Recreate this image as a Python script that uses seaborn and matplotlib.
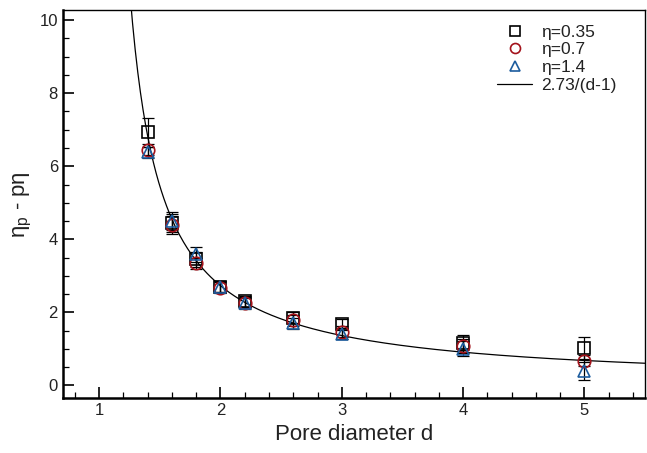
import matplotlib
matplotlib.use("Agg")
import matplotlib.pyplot as plt
import seaborn as sns
import numpy as np
from matplotlib.ticker import MultipleLocator

# Pore diameters
d = [1.4, 1.6, 1.8, 2.0, 2.2, 2.6, 3.0, 4.0, 5.0]

# eta_p - p*eta for each eta
y_035 = [6.93, 4.45, 3.45, 2.70, 2.30, 1.85, 1.68, 1.17, 1.03]
y_07 = [6.45, 4.40, 3.34, 2.68, 2.25, 1.79, 1.47, 1.08, 0.67]
y_14 = [6.38, 4.50, 3.59, 2.70, 2.26, 1.70, 1.42, 1.01, 0.39]

err_035 = [0.40, 0.25, 0.20, 0.15, 0.15, 0.15, 0.15, 0.20, 0.30]
err_07 = [0.15, 0.25, 0.15, 0.15, 0.15, 0.15, 0.15, 0.20, 0.15]
err_14 = [0.15, 0.25, 0.20, 0.15, 0.15, 0.15, 0.15, 0.20, 0.25]

fit_a = 2.73

sns.set_style("white")
plt.rcParams['font.family'] = ['Liberation Sans', 'DejaVu Sans']

fig = plt.figure(figsize=(6.47, 4.53), dpi=100)
ax = fig.add_axes([0.097, 0.121, 0.9, 0.857])

# Fitted curve
dd = np.linspace(1.2, 5.5, 400)
sns.lineplot(x=dd, y=fit_a / (dd - 1), color='black', linewidth=0.9, ax=ax,
             label='2.73/(d-1)', zorder=2)

series = [
    (y_035, err_035, 's', 'black', 'η=0.35'),
    (y_07, err_07, 'o', '#a3121b', 'η=0.7'),
    (y_14, err_14, '^', '#1c5c9e', 'η=1.4'),
]
handles = []
for y, e, m, c, lab in series:
    ax.errorbar(d, y, yerr=e, fmt='none', ecolor='black', elinewidth=0.9,
                capsize=4, capthick=0.9, zorder=3)
    h, = ax.plot(d, y, linestyle='none', marker=m, markersize=9,
                 markerfacecolor='none', markeredgecolor=c, markeredgewidth=1.2,
                 label=lab, zorder=4)
    handles.append(h)

line_handle = ax.get_lines()[0]
leg = ax.legend(handles + [line_handle], ['η=0.35', 'η=0.7', 'η=1.4', '2.73/(d-1)'],
                loc='upper right', bbox_to_anchor=(0.977, 1.003), frameon=False,
                fontsize=12.5, handlelength=2.0, handletextpad=0.5,
                labelspacing=0.15, markerscale=0.8)
for t in leg.get_texts():
    t.set_color('#222222')

ax.set_xlim(0.7, 5.5)
ax.set_ylim(-0.35, 10.28)
ax.xaxis.set_major_locator(MultipleLocator(1))
ax.xaxis.set_minor_locator(MultipleLocator(0.2))
ax.yaxis.set_major_locator(MultipleLocator(2))
ax.yaxis.set_minor_locator(MultipleLocator(0.5))
ax.tick_params(which='major', direction='in', length=8, width=1.2, labelsize=12,
               colors='black', labelcolor='#222222',
               bottom=True, left=True, top=False, right=False)
ax.tick_params(which='minor', direction='in', length=4, width=0.9, colors='black',
               bottom=True, left=True, top=False, right=False)
for s in ['left', 'bottom']:
    ax.spines[s].set_linewidth(1.8)
for s in ['top', 'right']:
    ax.spines[s].set_linewidth(1.0)
for s in ax.spines.values():
    s.set_color('black')

ax.set_xlabel('Pore diameter d', fontsize=16, color='#222222')
ax.set_ylabel(r'η$_\mathregular{p}$ - pη', fontsize=16, color='#222222')

fig.savefig('out.png', dpi=100)
